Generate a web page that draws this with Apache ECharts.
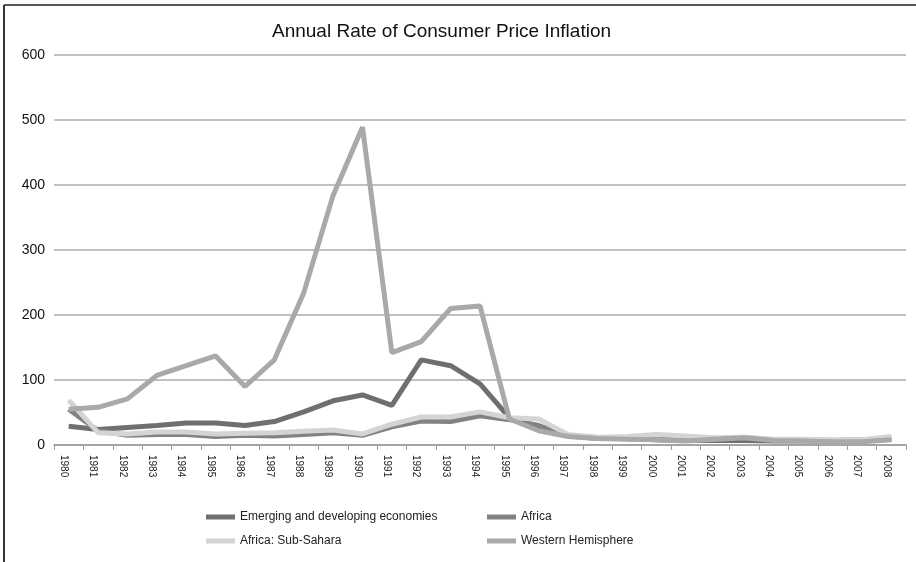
<!DOCTYPE html>
<html>
<head>
<meta charset="utf-8">
<script src="https://cdn.jsdelivr.net/npm/echarts@6/dist/echarts.min.js"></script>
<style>
  html, body { margin: 0; padding: 0; background: #fff; }
  #chart { width: 916px; height: 562px; }
</style>
</head>
<body>
<div id="chart"></div>
<script>
// data
const years = ['1980', '1981', '1982', '1983', '1984', '1985', '1986', '1987', '1988', '1989',
  '1990', '1991', '1992', '1993', '1994', '1995', '1996', '1997', '1998', '1999',
  '2000', '2001', '2002', '2003', '2004', '2005', '2006', '2007', '2008'];
const yTicks = [0, 100, 200, 300, 400, 500, 600];

const emerging = [29, 24, 27, 30, 34, 34, 30, 36, 51, 68,
  77, 61, 131, 122, 94, 42, 24, 15, 11, 10,
  8, 7, 7, 7, 6, 6, 6, 7, 9];
const africa = [55, 22, 15, 16, 16, 13, 15, 14, 16, 19,
  15, 28, 37, 36, 45, 39, 30, 14, 10, 11,
  12, 12, 9, 11, 8, 8, 7, 8, 10];
const subSahara = [69, 19, 17, 20, 20, 17, 18, 19, 21, 23,
  17, 32, 43, 43, 51, 42, 40, 16, 12, 13,
  16, 14, 11, 12, 9, 9, 8, 8, 13];
const western = [55, 58, 71, 107, 122, 137, 90, 131, 234, 384,
  489, 142, 159, 210, 214, 40, 22, 13, 10, 9,
  8, 6, 9, 11, 7, 6, 5, 5, 8];

const seriesNames = ['Emerging and developing economies', 'Africa', 'Africa: Sub-Sahara', 'Western Hemisphere'];
const seriesColors = ['#6f6f6f', '#828282', '#d4d4d4', '#a9a9a9'];

const chart = echarts.init(document.getElementById('chart'), null, { renderer: 'canvas' });

const lineSeries = (name, data, color) => ({
  name,
  type: 'line',
  data,
  symbol: 'none',
  smooth: false,
  lineStyle: { width: 5, color },
  itemStyle: { color },
  emphasis: { disabled: true },
});

const legendBase = {
  orient: 'vertical',
  top: 510,
  padding: 0,
  icon: 'rect',
  itemWidth: 29,
  itemHeight: 5,
  itemGap: 10,
  textStyle: { fontFamily: 'Liberation Sans', fontSize: 12, color: '#222', lineHeight: 14 },
};

chart.setOption({
  animation: false,
  backgroundColor: '#fff',
  title: {
    text: 'Annual Rate of Consumer Price Inflation',
    left: 272,
    top: 22,
    padding: 0,
    textStyle: { fontFamily: 'Liberation Sans', fontSize: 19, fontWeight: 'normal', color: '#111' },
  },
  legend: [
    { ...legendBase, left: 206, data: [seriesNames[0], seriesNames[2]] },
    { ...legendBase, left: 487, data: [seriesNames[1], seriesNames[3]] },
  ],
  grid: { left: 54, right: 10, top: 55, bottom: 117, containLabel: false, outerBoundsMode: 'none' },
  xAxis: {
    type: 'category',
    data: years,
    boundaryGap: true,
    axisLine: { lineStyle: { color: '#9a9a9a', width: 1.5 } },
    axisTick: { show: true, length: 5, lineStyle: { color: '#9a9a9a', width: 1 } },
    axisLabel: {
      interval: 0,
      rotate: -90,
      margin: 10,
      verticalAlign: 'top',
      fontFamily: 'Liberation Sans',
      fontSize: 10,
      color: '#222',
    },
  },
  yAxis: {
    type: 'value',
    min: yTicks[0],
    max: yTicks[yTicks.length - 1],
    interval: 100,
    axisLine: { show: false },
    axisTick: { show: false },
    splitLine: { lineStyle: { color: '#ababab', width: 1.5 } },
    axisLabel: { fontFamily: 'Liberation Sans', fontSize: 14, color: '#111', margin: 9 },
  },
  graphic: [
    // frame round the chart: top and left edges only
    { type: 'line', shape: { x1: 4, y1: 5, x2: 916, y2: 5 }, style: { stroke: '#555', lineWidth: 2 } },
    { type: 'line', shape: { x1: 4, y1: 5, x2: 4, y2: 562 }, style: { stroke: '#333', lineWidth: 2 } },
  ],
  series: [
    lineSeries(seriesNames[0], emerging, seriesColors[0]),
    lineSeries(seriesNames[1], africa, seriesColors[1]),
    lineSeries(seriesNames[2], subSahara, seriesColors[2]),
    lineSeries(seriesNames[3], western, seriesColors[3]),
  ],
});
</script>
</body>
</html>
